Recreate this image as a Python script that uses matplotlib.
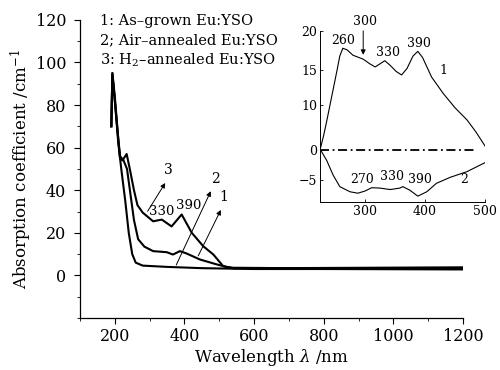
import matplotlib

matplotlib.use("Agg")
import matplotlib.pyplot as plt  # noqa: E402
import numpy as np  # noqa: E402

plt.rcParams.update({
    "font.family": "DejaVu Serif",
    "mathtext.fontset": "dejavuserif",
    "axes.linewidth": 0.9,
})

# main spectra (wavelength nm, absorption coefficient cm^-1)
wl_1 = [190, 193, 200, 210, 220, 230, 240, 250, 260, 280, 350, 450, 600, 800, 1000, 1200]
ab_1 = [70, 95, 82, 62, 48, 35, 20, 10, 6, 4.6, 4.0, 3.4, 3.0, 3.0, 2.9, 2.8]

wl_2 = [190, 193, 200, 210, 215, 225, 235, 245, 255, 267, 285, 310, 349, 367, 387,
        406, 444, 492, 520, 540, 700, 1200]
ab_2 = [70, 94, 82, 64, 56, 54, 50, 38, 26, 17, 13.5, 11.4, 10.9, 9.8, 11.4,
        10.3, 7.5, 5.2, 4.0, 3.6, 3.4, 3.4]

wl_3 = [190, 193, 200, 210, 215, 222, 234, 243, 255, 265, 280, 310, 335, 363, 392,
        421, 454, 483, 511, 540, 800, 1200]
ab_3 = [70, 95, 84, 64, 55, 54, 57, 50, 40, 33, 29.5, 25.4, 26.2, 23, 28.6,
        20, 13.7, 9.8, 4.4, 3.3, 3.5, 3.8]

# inset: difference spectra
in_wl_1 = [225, 231, 236, 244, 253, 258, 263, 270, 280, 297, 308, 317, 325, 333, 342,
           352, 361, 370, 380, 388, 396, 411, 430, 450, 470, 485, 500]
in_df_1 = [0, 3.2, 6.3, 11.0, 14.8, 16.8, 17.8, 17.6, 16.9, 16.4, 15.8, 15.4, 15.8, 16.2, 15.6,
           14.8, 14.3, 15.2, 16.8, 17.4, 16.6, 14.0, 11.7, 9.4, 6.7, 4.0, 0.9]
in_wl_2 = [226, 236, 247, 258, 275, 288, 300, 311, 325, 342, 358, 363, 375, 388,
           403, 419, 442, 470, 500]
in_df_2 = [0, -1.7, -4.2, -5.9, -6.6, -6.8, -6.5, -6.05, -6.1, -6.3, -6.1, -5.9, -6.4, -7.2,
           -6.6, -5.45, -4.55, -3.6, -2.1]
in_ticks = [-5, 0, 10, 15, 20]

legend_lines = ["1: As–grown Eu:YSO", "2; Air–annealed Eu:YSO", "3: H$_2$–annealed Eu:YSO"]

# the inset's printed y scale is uneven; map values to drawing height
yv = [-8, -5, 0, 10, 15, 20]
yp = [0, 22, 52, 97, 132, 171]


def iy(v):
    return np.interp(v, yv, yp)


fig = plt.figure(figsize=(5.0, 3.7), dpi=100)
ax = fig.add_axes([0.16, 0.1405, 0.766, 0.806])
for w, a in ((wl_1, ab_1), (wl_2, ab_2), (wl_3, ab_3)):
    ax.plot(w, a, color="black", lw=1.5, solid_joinstyle="round")
ax.set_xlim(100, 1200)
ax.set_ylim(-20, 120)
ax.set_xticks(range(200, 1201, 200))
ax.set_xticks(range(100, 1201, 100), minor=True)
ax.set_yticks(range(0, 121, 20))
ax.set_yticks(range(-20, 121, 10), minor=True)
ax.spines[["top", "right"]].set_visible(False)
ax.tick_params(which="major", direction="out", length=4, labelsize=11.5, width=0.8)
ax.tick_params(axis="y", which="major", pad=6)
ax.tick_params(which="minor", direction="out", length=2, width=0.6)
ax.set_xlabel("Wavelength $\\lambda$ /nm", fontsize=12, labelpad=1)
ax.set_ylabel("Absorption coefficient /cm$^{-1}$", fontsize=12, labelpad=1)

for i, t in enumerate(legend_lines):
    ax.text(0.052, 1.02 - i * 0.064, t, transform=ax.transAxes, fontsize=10.5,
            va="top", ha="left")

arw = dict(arrowstyle="-|>", color="black", lw=0.7, mutation_scale=7)
ax.annotate("", xy=(349, 44.5), xytext=(290, 29), arrowprops=arw)
ax.text(353, 46, "3", fontsize=10, ha="center", va="bottom")
ax.annotate("", xy=(479, 40.7), xytext=(373, 3.7), arrowprops=arw)
ax.text(488, 42, "2", fontsize=10, ha="center", va="bottom")
ax.annotate("", xy=(508, 31.9), xytext=(436, 8), arrowprops=arw)
ax.text(514, 33.5, "1", fontsize=10, ha="center", va="bottom")
ax.text(335, 30, "330", fontsize=9.5, ha="center", va="center")
ax.text(413, 32.8, "390", fontsize=9.5, ha="center", va="center")

ins = fig.add_axes([0.64, 0.454, 0.33, 0.462])
ins.plot(in_wl_1, iy(in_df_1), color="black", lw=0.8)
ins.plot(in_wl_2, iy(in_df_2), color="black", lw=0.8)
ins.plot([225, 485], iy([0, 0]), color="black", lw=1.3, ls=(0, (5, 2, 1, 2)))
ins.set_xlim(225, 500)
ins.set_ylim(iy(-8), iy(20))
ins.set_xticks([300, 400, 500])
ins.set_yticks(iy(in_ticks))
ins.set_yticklabels([str(t).replace("-", "−") for t in in_ticks])
ins.spines[["top", "right"]].set_visible(False)
ins.spines[["left", "bottom"]].set_linewidth(0.7)
ins.tick_params(direction="in", length=2, width=0.6, labelsize=9, pad=2)

ins.text(263, iy(18.0), "260", fontsize=9, ha="center", va="bottom")
ins.text(300, iy(20.5) + 3, "300", fontsize=9, ha="center", va="bottom", clip_on=False)
ins.annotate("", xy=(297, iy(16.6)), xytext=(297, iy(20) + 3), arrowprops=arw,
             annotation_clip=False)
ins.text(338, iy(16.4), "330", fontsize=9, ha="center", va="bottom")
ins.text(390, iy(17.6), "390", fontsize=9, ha="center", va="bottom")
ins.text(430, iy(15.0), "1", fontsize=9, ha="center", va="center")
ins.text(295, iy(-5.8), "270", fontsize=9, ha="center", va="bottom")
ins.text(345, iy(-5.4), "330", fontsize=9, ha="center", va="bottom")
ins.text(392, iy(-5.8), "390", fontsize=9, ha="center", va="bottom")
ins.text(465, iy(-5.8), "2", fontsize=9, ha="center", va="bottom")

fig.savefig("out.png", dpi=100)
